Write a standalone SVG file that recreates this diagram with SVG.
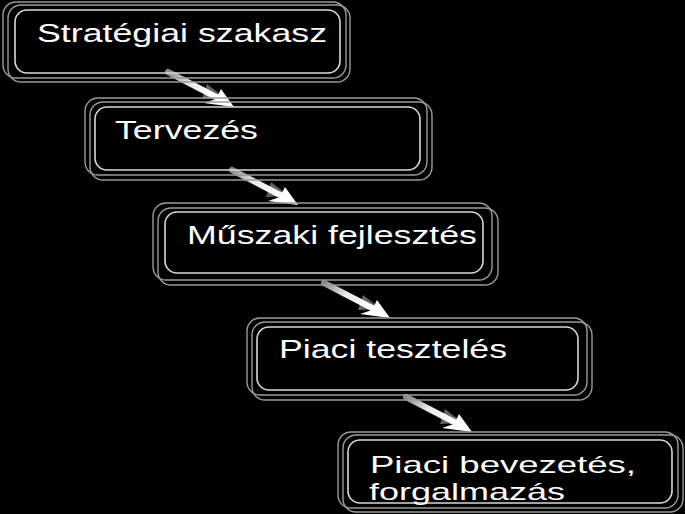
<svg xmlns="http://www.w3.org/2000/svg" width="685" height="514" viewBox="0 0 685 514">
<defs>
<style>
.bk{fill:none;stroke:#9a9a9a;stroke-width:1.4}
.fr{fill:none;stroke:#d8d8d8;stroke-width:1.6}
.t{font-family:"Liberation Sans",Arial,sans-serif;font-size:26px;fill:#ffffff}
.s{font-size:24px}
</style>
<linearGradient id="sh" x1="0" y1="0" x2="1" y2="0.5">
<stop offset="0" stop-color="#8a8a8a"/>
<stop offset="0.5" stop-color="#e8e8e8"/>
<stop offset="1" stop-color="#ffffff"/>
</linearGradient>
<g id="arr">
<path d="M39 12 L57 26 L34 27 Z" fill="#7a7a7a" opacity="0.8"/>
<line x1="0" y1="0" x2="52" y2="27" stroke="url(#sh)" stroke-width="6" stroke-linecap="round"/>
<path d="M66 35 L36 31 L48 27 L53 17 Z" fill="#ffffff"/>
</g>
</defs>
<rect width="685" height="514" fill="#000000"/>

<g id="connectors">
<use href="#arr" x="168" y="72"/>
<use href="#arr" x="232" y="170"/>
<use href="#arr" x="324" y="283"/>
<use href="#arr" x="406" y="397"/>
</g>

<g id="node1">
<rect class="bk" x="3" y="2" width="343" height="76" rx="13"/>
<rect class="bk" x="8" y="5" width="342" height="77" rx="13"/>
<rect class="fr" x="15" y="10" width="325" height="63" rx="12"/>
<text class="t" x="37" y="42" textLength="290" lengthAdjust="spacingAndGlyphs">Stratégiai szakasz</text>
</g>

<g id="node2">
<rect class="bk" x="85" y="98" width="342" height="77" rx="13"/>
<rect class="bk" x="90" y="102" width="342" height="78" rx="13"/>
<rect class="fr" x="95" y="107" width="325" height="63" rx="12"/>
<text class="t" x="115" y="139" textLength="143" lengthAdjust="spacingAndGlyphs">Tervezés</text>
</g>

<g id="node3">
<rect class="bk" x="153" y="203" width="339" height="77" rx="13"/>
<rect class="bk" x="158" y="208" width="340" height="77" rx="13"/>
<rect class="fr" x="165" y="212" width="318" height="61" rx="12"/>
<text class="t" x="187" y="244" textLength="290" lengthAdjust="spacingAndGlyphs">Műszaki fejlesztés</text>
</g>

<g id="node4">
<rect class="bk" x="247" y="318" width="340" height="77" rx="13"/>
<rect class="bk" x="252" y="322" width="340" height="78" rx="13"/>
<rect class="fr" x="257" y="327" width="321" height="63" rx="12"/>
<text class="t" x="279" y="358" textLength="228" lengthAdjust="spacingAndGlyphs">Piaci tesztelés</text>
</g>

<g id="node5">
<rect class="bk" x="338" y="432" width="340" height="76" rx="13"/>
<rect class="bk" x="343" y="435" width="340" height="77" rx="13"/>
<rect class="fr" x="348" y="440" width="324" height="63" rx="12"/>
<text class="t s" x="370" y="473" textLength="266" lengthAdjust="spacingAndGlyphs">Piaci bevezetés,</text>
<text class="t s" x="369" y="500" textLength="196" lengthAdjust="spacingAndGlyphs">forgalmazás</text>
</g>
</svg>
